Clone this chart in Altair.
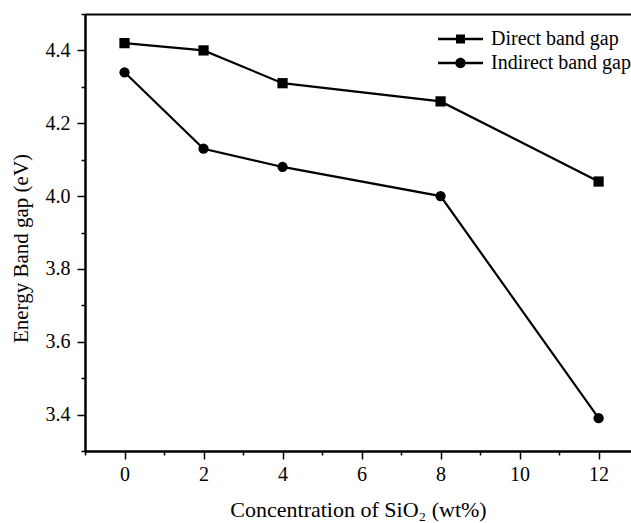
import altair as alt
import pandas as pd

conc = [0, 2, 4, 8, 12]
direct = [4.42, 4.40, 4.31, 4.26, 4.04]
indirect = [4.34, 4.13, 4.08, 4.00, 3.39]
series_names = ["Direct band gap", "Indirect band gap"]
x_major = [0, 2, 4, 6, 8, 10, 12]
x_minor = [-1, 1, 3, 5, 7, 9, 11]
y_major = [3.4, 3.6, 3.8, 4.0, 4.2, 4.4]
y_minor = [3.3, 3.5, 3.7, 3.9, 4.1, 4.3, 4.5]

rows = []
for c, d in zip(conc, direct):
    rows.append({"conc": c, "gap": d, "series": series_names[0]})
for c, d in zip(conc, indirect):
    rows.append({"conc": c, "gap": d, "series": series_names[1]})
df = pd.DataFrame(rows)

FONT = "Liberation Serif"
xs = alt.Scale(domain=[-1, 12.82], nice=False, zero=False)
ys = alt.Scale(domain=[3.3, 4.5], nice=False, zero=False)

common_axis = dict(domainColor="black", tickColor="black", labelColor="black",
                   titleColor="black", labelFont=FONT, titleFont=FONT, grid=False,
                   domainWidth=2, tickWidth=1.5)

x_major_axis = alt.Axis(orient="bottom", values=x_major, tickSize=8, labelFontSize=20,
                        labelPadding=5, title="Concentration of SiO\u2082 (wt%)",
                        titleFontSize=22, titleFontWeight="normal", titleY=65,
                        titleBaseline="alphabetic", format="d", **common_axis)
y_major_axis = alt.Axis(orient="left", values=y_major, tickSize=8, labelFontSize=20,
                        labelPadding=7, format=".1f", title="Energy Band gap (eV)",
                        titleFontSize=21, titleFontWeight="normal", titleX=-64,
                        titleY=234, titleAngle=-90, titleBaseline="middle",
                        titleAlign="center", **common_axis)
x_minor_axis = alt.Axis(orient="bottom", values=x_minor, tickSize=4, labels=False,
                        title=None, domainColor="black", tickColor="black",
                        domainWidth=2, tickWidth=1.5, grid=False)
y_minor_axis = alt.Axis(orient="left", values=y_minor, tickSize=4, labels=False,
                        title=None, domainColor="black", tickColor="black",
                        domainWidth=2, tickWidth=1.5, grid=False)
x_top_axis = alt.Axis(orient="top", ticks=False, labels=False, title=None,
                      domainColor="black", domainWidth=2, grid=False)

base = alt.Chart(df)

lines = base.mark_line(color="black", strokeWidth=2.2).encode(
    x=alt.X("conc:Q", scale=xs, axis=x_major_axis),
    y=alt.Y("gap:Q", scale=ys, axis=y_major_axis),
    detail="series:N",
)

points = base.mark_point(filled=True, color="black", opacity=1, size=105).encode(
    x=alt.X("conc:Q", scale=xs, axis=x_minor_axis),
    y=alt.Y("gap:Q", scale=ys, axis=y_minor_axis),
    shape=alt.Shape("series:N", scale=alt.Scale(domain=series_names, range=["square", "circle"]),
                    legend=None),
)

sq_path = "M-2.25,-0.12H2.25V0.12H-2.25Z M-0.45,-0.45H0.45V0.45H-0.45Z"
ci_path = ("M-2.25,-0.12H2.25V0.12H-2.25Z M0.52,0A0.52,0.52 0 1,1 -0.52,0"
           "A0.52,0.52 0 1,1 0.52,0Z")

legend_layer = base.transform_filter("false").mark_point(filled=True, color="black", opacity=1).encode(
    x=alt.X("conc:Q", scale=xs, axis=x_top_axis),
    y=alt.Y("gap:Q", scale=ys, axis=None),
    shape=alt.Shape("series:N",
                    scale=alt.Scale(domain=series_names, range=[sq_path, ci_path]),
                    legend=alt.Legend(title=None, orient="none", legendX=365.5, legendY=15,
                                      symbolSize=400, symbolFillColor="black",
                                      symbolStrokeColor="black", symbolStrokeWidth=0,
                                      symbolOpacity=1,
                                      labelFont=FONT, labelFontSize=20, labelColor="black",
                                      labelOffset=20.5, rowPadding=4, padding=0,
                                      labelLimit=300)),
)

chart = alt.layer(lines, points, legend_layer).resolve_scale(
    shape="independent"
).resolve_axis(x="independent", y="independent").properties(
    width=546, height=437,
    autosize=alt.AutoSizeParams(type="none"),
    padding={"left": 85, "top": 14, "right": 0, "bottom": 72},
    background="white",
).configure_view(stroke=None)

chart.save("out.html", embed_options={"renderer": "svg", "actions": False})
